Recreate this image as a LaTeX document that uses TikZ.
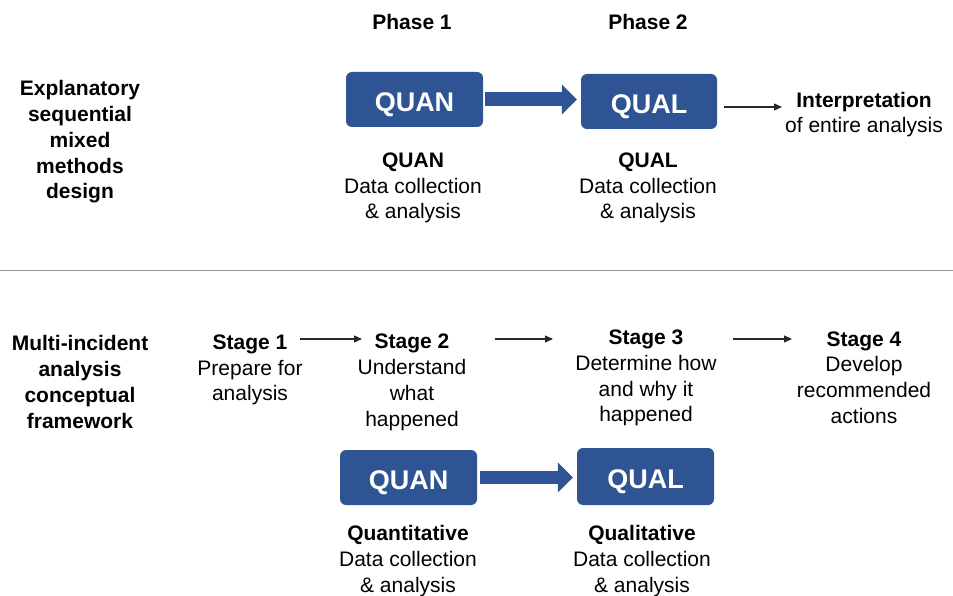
\documentclass[tikz,border=0pt]{standalone}
\usepackage{fontspec}
\setmainfont{Liberation Sans}
\usetikzlibrary{arrows.meta}
\definecolor{boxblue}{RGB}{47,84,148}
\definecolor{rulegray}{RGB}{150,150,150}
\definecolor{arrowgray}{RGB}{40,40,40}
\newcommand{\boxlabel}[1]{\raisebox{-12pt}[0pt][0pt]{#1}}
\begin{document}
\begin{tikzpicture}[x=1pt,y=-1pt,
  txt/.style={align=center,font=\fontsize{21}{25.8}\selectfont,inner sep=0pt},
  btxt/.style={txt,font=\fontsize{21}{25.8}\selectfont\bfseries},
  bluebox/.style={fill=boxblue,rounded corners=6pt,text=white,font=\fontsize{27}{30}\selectfont\bfseries,inner sep=0pt},
  fat/.style={line width=14pt,boxblue,-{Triangle[length=15pt,width=29pt]}},
  thin/.style={line width=1.1pt,arrowgray,-{Triangle[length=8pt,width=7pt]}}]
\useasboundingbox (0,0) rectangle (953,596);
% top section
\node[btxt] (ph1) at (412,22) {Phase 1};
\node[btxt] (ph2) at (648,22) {Phase 2};
\node[btxt] (lab1) at (80,142) {Explanatory\\sequential\\mixed\\methods\\design};
\node[bluebox,minimum width=137pt,minimum height=55pt] (quan1) at (414.5,99.5) {\boxlabel{QUAN}};
\node[bluebox,minimum width=136pt,minimum height=55pt] (qual1) at (649,101.5) {\boxlabel{QUAL}};
\draw[fat,shorten <=2pt,shorten >=4pt] (quan1.east) -- (qual1.west |- quan1.east);
\node[txt] (interp) at (864,114.5) {\textbf{Interpretation}\\of entire analysis};
\coordinate (i1) at (724,107);
\coordinate (i2) at (782,107);
\draw[thin] (i1) -- (i2);
\node[txt] (d1) at (413,188) {\textbf{QUAN}\\Data collection\\\& analysis};
\node[txt] (d2) at (648,188) {\textbf{QUAL}\\Data collection\\\& analysis};
% divider
\coordinate (r1) at (0,270);
\coordinate (r2) at (953,270);
\draw[rulegray,line width=0.8pt] (r1) -- (r2);
% bottom section
\node[btxt] (lab2) at (80,382) {Multi-incident\\analysis\\conceptual\\framework};
\node[txt] (s1) at (250,370) {\textbf{Stage 1}\\Prepare for\\analysis};
\node[txt] (s2) at (412,382.5) {\textbf{Stage 2}\\Understand\\what\\happened};
\node[txt] (s3) at (646,378) {\textbf{Stage 3}\\Determine how\\and why it\\happened};
\node[txt] (s4) at (864,377.5) {\textbf{Stage 4}\\Develop\\recommended\\actions};
\coordinate (a1) at (300,339); \coordinate (b1) at (362,339);
\coordinate (a2) at (495,339); \coordinate (b2) at (553,339);
\coordinate (a3) at (733,339); \coordinate (b3) at (792,339);
\draw[thin] (a1) -- (b1);
\draw[thin] (a2) -- (b2);
\draw[thin] (a3) -- (b3);
\node[bluebox,minimum width=137pt,minimum height=55pt] (quan2) at (408.5,477.5) {\boxlabel{QUAN}};
\node[bluebox,minimum width=137pt,minimum height=57pt] (qual2) at (645.5,476.5) {\boxlabel{QUAL}};
\draw[fat,line width=13pt,shorten <=3pt,shorten >=4pt] (quan2.east) -- (qual2.west |- quan2.east);
\node[txt] (d3) at (408,561) {\textbf{Quantitative}\\Data collection\\\& analysis};
\node[txt] (d4) at (642,561) {\textbf{Qualitative}\\Data collection\\\& analysis};
\end{tikzpicture}
\end{document}
